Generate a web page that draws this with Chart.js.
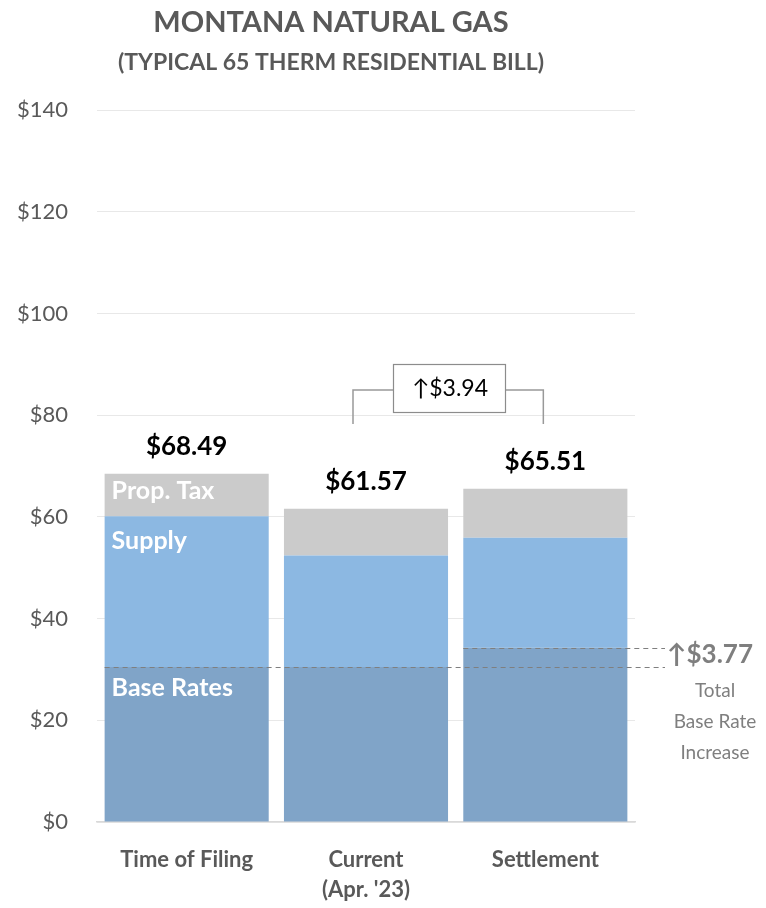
<!DOCTYPE html>
<html>
<head>
<meta charset="utf-8">
<script src="https://cdn.jsdelivr.net/npm/chart.js@4.4.0/dist/chart.umd.min.js"></script>
<style>
  html, body { margin: 0; padding: 0; background: #fff; }
  #wrap { width: 766px; height: 908px; position: relative; }
</style>
</head>
<body>
<div id="wrap"><canvas id="grafico"></canvas></div>
<script>
// valores
const categorias = ['Time of Filing', ['Current', "(Apr. '23)"], 'Settlement'];
const baseRates = [30.5, 30.5, 34.27];
const supply = [29.6, 21.9, 21.63];
const propTax = [8.39, 9.17, 9.61];
const totais = ['$68.49', '$61.57', '$65.51'];
const yTicks = [0, 20, 40, 60, 80, 100, 120, 140];
const difBill = '\u2191$3.94';
const difBase = '\u2191$3.77';

const fonte = 'Lato, "Open Sans", sans-serif';
const cinza = '#595959';

const anotacoes = {
  id: 'anotacoes',
  afterDatasetsDraw(chart) {
    const ctx = chart.ctx;
    const y = chart.scales.y;
    const m0 = chart.getDatasetMeta(0);
    const m2 = chart.getDatasetMeta(2);
    ctx.save();

    // titulo
    ctx.fillStyle = cinza;
    ctx.textAlign = 'center';
    ctx.textBaseline = 'middle';
    ctx.font = 'bold 29px ' + fonte;
    ctx.fillText('MONTANA NATURAL GAS', 331, 23);
    ctx.font = 'bold 23px ' + fonte;
    ctx.fillText('(TYPICAL 65 THERM RESIDENTIAL BILL)', 331, 63);

    // totais acima das barras
    ctx.fillStyle = '#000';
    ctx.font = 'bold 26px ' + fonte;
    m2.data.forEach((bar, i) => {
      ctx.fillText(totais[i], bar.x, bar.y - 27);
    });

    // rotulos dentro da primeira barra
    const b0 = m0.data[0];
    const left = b0.x - b0.width / 2 + 7;
    ctx.fillStyle = '#fff';
    ctx.textAlign = 'left';
    ctx.font = 'bold 25px ' + fonte;
    const topoSupply = y.getPixelForValue(baseRates[0] + supply[0]);
    const topoTotal = y.getPixelForValue(baseRates[0] + supply[0] + propTax[0]);
    ctx.fillText('Prop. Tax', left, topoTotal + 17);
    ctx.fillText('Supply', left, topoSupply + 25);
    ctx.fillText('Base Rates', left, y.getPixelForValue(baseRates[0]) + 21);

    // linhas tracejadas
    ctx.strokeStyle = '#7f7f7f';
    ctx.lineWidth = 1.2;
    ctx.setLineDash([5, 4]);
    const yb0 = Math.round(y.getPixelForValue(baseRates[0])) + 0.5;
    const yb2 = Math.round(y.getPixelForValue(baseRates[2])) + 0.5;
    const b2 = m0.data[2];
    ctx.beginPath();
    ctx.moveTo(left - 7, yb0); ctx.lineTo(665, yb0);
    ctx.moveTo(b2.x - b2.width / 2, yb2); ctx.lineTo(665, yb2);
    ctx.stroke();
    ctx.setLineDash([]);

    // aumento base
    ctx.fillStyle = '#7f7f7f';
    ctx.font = 'bold 26px ' + fonte;
    ctx.fillText(difBase, 667, 655);
    ctx.textAlign = 'center';
    ctx.font = '19px ' + fonte;
    ctx.fillText('Total', 715, 691);
    ctx.fillText('Base Rate', 715, 722);
    ctx.fillText('Increase', 715, 753);

    // colchete
    const c1 = chart.getDatasetMeta(2).data[1];
    const c2 = chart.getDatasetMeta(2).data[2];
    const xl = c1.x - 13, xr = c2.x - 2;
    const yTop = 390, yBot = 424;
    ctx.strokeStyle = '#999';
    ctx.lineWidth = 1.5;
    ctx.beginPath();
    ctx.moveTo(xl, yBot); ctx.lineTo(xl, yTop); ctx.lineTo(393, yTop);
    ctx.moveTo(505, yTop); ctx.lineTo(xr, yTop); ctx.lineTo(xr, yBot);
    ctx.stroke();
    ctx.fillStyle = '#fff';
    ctx.fillRect(393, 364, 112, 48);
    ctx.strokeStyle = '#8c8c8c';
    ctx.lineWidth = 1.2;
    ctx.strokeRect(393.5, 364.5, 112, 48);
    ctx.fillStyle = '#000';
    ctx.font = '23px ' + fonte;
    ctx.fillText(difBill, 450, 389);

    ctx.restore();
  }
};

new Chart(document.getElementById('grafico').getContext('2d'), {
  type: 'bar',
  data: {
    labels: categorias,
    datasets: [
      { label: 'Base Rates', data: baseRates, backgroundColor: '#80a4c8' },
      { label: 'Supply', data: supply, backgroundColor: '#8cb8e2' },
      { label: 'Prop. Tax', data: propTax, backgroundColor: '#cbcbcb' }
    ]
  },
  options: {
    responsive: true,
    maintainAspectRatio: false,
    animation: false,
    layout: { padding: { top: 110, right: 131, left: 0, bottom: 0 } },
    datasets: { bar: { barPercentage: 0.915, categoryPercentage: 1 } },
    plugins: { legend: { display: false }, tooltip: { enabled: false } },
    scales: {
      x: {
        stacked: true,
        grid: { display: false, drawTicks: false },
        border: { color: '#d9d9d9', width: 1.5 },
        ticks: { color: cinza, padding: 23, font: { family: fonte, size: 22, weight: 'bold', lineHeight: 1.36 } },
        afterFit(s) { s.height = 86; }
      },
      y: {
        stacked: true,
        min: 0,
        max: 140,
        afterBuildTicks(s) { s.ticks = yTicks.map(v => ({ value: v })); },
        grid: { color: '#e8e8e8', drawTicks: false },
        border: { display: false },
        ticks: { color: cinza, padding: 29, font: { family: fonte, size: 22 }, callback: v => '$' + v },
        afterFit(s) { s.width = 97; }
      }
    }
  },
  plugins: [anotacoes]
});
</script>
</body>
</html>
